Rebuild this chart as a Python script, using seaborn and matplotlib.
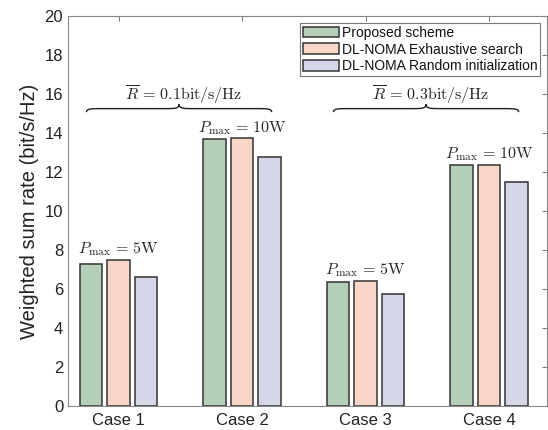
import numpy as np
import pandas as pd
import matplotlib
matplotlib.use("Agg")
import matplotlib.pyplot as plt
from matplotlib.path import Path
from matplotlib.patches import PathPatch
import seaborn as sns

cases = ["Case 1", "Case 2", "Case 3", "Case 4"]
schemes = ["Proposed scheme", "DL-NOMA Exhaustive search", "DL-NOMA Random initialization"]
proposed = [7.28, 13.68, 6.36, 12.36]
exhaustive = [7.49, 13.72, 6.42, 12.36]
random_init = [6.63, 12.77, 5.75, 11.49]
pmax_labels = ["5W", "10W", "5W", "10W"]
rbar_labels = ["0.1", "0.3"]
yticks = [0, 2, 4, 6, 8, 10, 12, 14, 16, 18, 20]

colors = ["#b4ceb7", "#f7d6c8", "#d6d6e9"]

df = pd.DataFrame({
    "case": [c for c in cases for _ in schemes],
    "scheme": [s for _ in cases for s in schemes],
    "value": [v for trio in zip(proposed, exhaustive, random_init) for v in trio],
})

sns.set_theme(style="white")
plt.rcParams["font.family"] = ["Liberation Sans", "DejaVu Sans"]
plt.rcParams["mathtext.fontset"] = "cm"

fig = plt.figure(figsize=(5.48, 4.30), dpi=100)
ax = fig.add_axes([68 / 548, 24 / 430, 479 / 548, 390 / 430])

sns.barplot(data=df, x="case", y="value", hue="scheme", order=cases, hue_order=schemes,
            palette=colors, width=0.67, gap=0.18, edgecolor="#333333", linewidth=1.1,
            ax=ax, errorbar=None, saturation=1)

ax.set_xlim(-0.41, 3.47)
ax.set_ylim(0, 20)
ax.set_yticks(yticks)
ax.set_xlabel("")
ax.set_ylabel("Weighted sum rate (bit/s/Hz)", fontsize=14.5, color="#222222", labelpad=4)
ax.tick_params(axis="both", direction="in", length=3.5, width=0.7, colors="#777777",
               labelcolor="#222222", labelsize=12, top=True, right=True)
ax.tick_params(axis="x", pad=5)
for sp in ax.spines.values():
    sp.set_color("#888888")
    sp.set_linewidth(0.8)

# Pmax annotations
maxv = [max(a, b, c) for a, b, c in zip(proposed, exhaustive, random_init)]
for i, (lab, m) in enumerate(zip(pmax_labels, maxv)):
    ax.text(i, m + 0.55, r"$P_{\max}\,=\," + lab[:-1] + r"\mathrm{W}$", ha="center", va="center",
            fontsize=11.5)

# braces
def brace(ax, x0, x1, y, h):
    xm = (x0 + x1) / 2
    r = 0.12
    verts = [
        (x0, y - h * 0.45),
        (x0, y), (x0 + r * 0.3, y), (x0 + r, y),
        (xm - r, y),
        (xm - r * 0.3, y), (xm, y), (xm, y + h * 0.55),
        (xm, y), (xm + r * 0.3, y), (xm + r, y),
        (x1 - r, y),
        (x1 - r * 0.3, y), (x1, y), (x1, y - h * 0.45),
    ]
    codes = [Path.MOVETO,
             Path.CURVE4, Path.CURVE4, Path.CURVE4,
             Path.LINETO,
             Path.CURVE4, Path.CURVE4, Path.CURVE4,
             Path.CURVE4, Path.CURVE4, Path.CURVE4,
             Path.LINETO,
             Path.CURVE4, Path.CURVE4, Path.CURVE4]
    ax.add_patch(PathPatch(Path(verts, codes), fill=False, lw=1.0, color="#222222"))

for k, lab in enumerate(rbar_labels):
    g0 = 2 * k
    x0 = g0 - 0.26
    x1 = g0 + 1 + 0.24
    brace(ax, x0, x1, 15.25, 0.4)
    ax.text((x0 + x1) / 2 + 0.04, 15.95, r"$\overline{R}\,=\," + lab + r"\mathrm{bit/s/Hz}$",
            ha="center", va="center", fontsize=11.5)

leg = ax.legend(loc="upper right", fontsize=10, frameon=True, fancybox=False,
                edgecolor="#555555", borderpad=0.2, handlelength=2.6, handleheight=0.8,
                handletextpad=0.2, labelspacing=0.2, borderaxespad=0.5)
leg.get_frame().set_linewidth(0.8)
for t in leg.get_texts():
    t.set_color("#111111")

fig.savefig("out.png", dpi=100)
